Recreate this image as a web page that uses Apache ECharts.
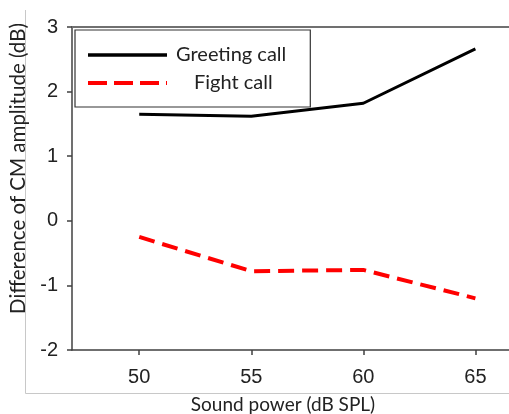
<!DOCTYPE html>
<html>
<head>
<meta charset="utf-8">
<script src="https://cdn.jsdelivr.net/npm/echarts@6/dist/echarts.min.js"></script>
<style>html,body{margin:0;padding:0;background:#fff}#c{width:509px;height:414px}</style>
</head>
<body>
<div id="c"></div>
<script>
const soundPower = [50, 55, 60, 65];
const greetingCall = [1.65, 1.62, 1.82, 2.66];
const fightCall = [-0.25, -0.78, -0.76, -1.2];
const xTicks = [50, 55, 60, 65];
const yTicks = [-2, -1, 0, 1, 2, 3];

const chart = echarts.init(document.getElementById('c'), null, {renderer: 'canvas'});
const titleFont = 'Lato, "Open Sans", sans-serif';
chart.setOption({
  animation: false,
  backgroundColor: '#fff',
  grid: {left: 72, right: 0, top: 27, bottom: 64, containLabel: false, outerBoundsMode: 'none'},
  graphic: [
    {type: 'line', shape: {x1: 25.5, y1: 10, x2: 25.5, y2: 393.5}, style: {stroke: '#c8c8c8', lineWidth: 1}, silent: true},
    {type: 'line', shape: {x1: 25.5, y1: 393.5, x2: 509, y2: 393.5}, style: {stroke: '#c8c8c8', lineWidth: 1}, silent: true}
  ],
  legend: {
    orient: 'vertical',
    left: 75, top: 30,
    backgroundColor: '#fff',
    borderColor: '#333', borderWidth: 1.2, borderRadius: 0,
    padding: [15, 24, 14, 11],
    itemWidth: 79, itemHeight: 14, itemGap: 8,
    itemStyle: {opacity: 0},
    data: [
      {name: 'Greeting call', lineStyle: {width: 3.5, color: '#000'}},
      {name: 'Fight call', lineStyle: {width: 4, color: '#ff0000', type: [19, 7]}}
    ],
    formatter: function (n) { return n === 'Fight call' ? '{f|' + n + '}' : '{g|' + n + '}'; },
    textStyle: {
      fontFamily: titleFont, fontSize: 20, color: '#222',
      rich: {
        g: {fontFamily: titleFont, fontSize: 20, color: '#222', padding: [0, 0, 0, 4]},
        f: {fontFamily: titleFont, fontSize: 20, color: '#222', padding: [0, 0, 0, 22]}
      }
    }
  },
  xAxis: [{
    type: 'value', min: 47, max: 66.5,
    name: 'Sound power (dB SPL)', nameLocation: 'middle', nameGap: 45,
    nameTextStyle: {fontFamily: titleFont, fontSize: 19, color: '#222', padding: [0, 15, 0, 0]},
    axisLine: {show: true, onZero: false, lineStyle: {color: '#404040', width: 1.5}},
    axisTick: {show: true, inside: false, length: 5, customValues: xTicks, lineStyle: {color: '#404040', width: 1.5}},
    axisLabel: {customValues: xTicks, fontFamily: 'Liberation Sans, Arial, sans-serif', fontSize: 20, color: '#222', margin: 17},
    splitLine: {show: false}
  }, {
    type: 'value', position: 'top', min: 47, max: 66.5,
    axisLine: {show: true, onZero: false, lineStyle: {color: '#707070', width: 2}},
    axisTick: {show: false}, axisLabel: {show: false}, splitLine: {show: false}
  }],
  yAxis: {
    type: 'value', min: -2, max: 3, interval: 1,
    name: 'Difference of CM amplitude (dB)', nameLocation: 'middle', nameGap: 42, nameRotate: 90,
    nameTextStyle: {fontFamily: titleFont, fontSize: 20.5, color: '#222', padding: [0, 0, 0, 40]},
    axisLine: {show: true, onZero: false, lineStyle: {color: '#404040', width: 1.5}},
    axisTick: {show: true, inside: false, length: 5, lineStyle: {color: '#404040', width: 1.5}},
    axisLabel: {fontFamily: 'Liberation Sans, Arial, sans-serif', fontSize: 20, color: '#222', margin: 14,
      customValues: yTicks},
    splitLine: {show: false}
  },
  series: [{
    name: 'Greeting call', type: 'line', symbol: 'none',
    data: soundPower.map((x, i) => [x, greetingCall[i]]),
    lineStyle: {color: '#000', width: 3},
    itemStyle: {color: '#000'}
  }, {
    name: 'Fight call', type: 'line', symbol: 'none',
    data: soundPower.map((x, i) => [x, fightCall[i]]),
    lineStyle: {color: '#ff0000', width: 4, type: [16, 8]},
    itemStyle: {color: '#ff0000'}
  }]
});
</script>
</body>
</html>
